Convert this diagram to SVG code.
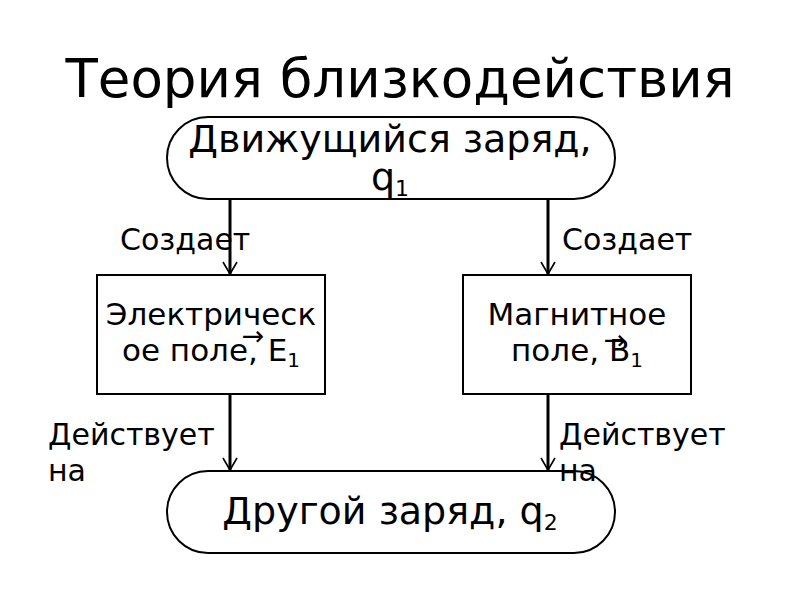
<svg xmlns="http://www.w3.org/2000/svg" width="800" height="600" viewBox="0 0 800 600">
<defs>
<marker id="arr" viewBox="0 0 14 16" refX="13" refY="8" markerWidth="14" markerHeight="16" markerUnits="userSpaceOnUse" orient="auto">
<path d="M1,1 L13,8 L1,15" fill="none" stroke="#000" stroke-width="1.6"/>
</marker>
</defs>
<style>
text{font-family:"DejaVu Sans","Liberation Sans",sans-serif;fill:#000}
.shape{fill:#fff;stroke:#000;stroke-width:2}
.big{font-size:38px;text-anchor:middle}
.mid{font-size:31px;text-anchor:middle}
.lbl{font-size:30px}
.vec{font-size:27px;text-anchor:middle}
.conn line{stroke:#000;stroke-width:3;marker-end:url(#arr)}
</style>
<rect width="800" height="600" fill="#fff"/>
<text x="400" y="97" font-size="53" text-anchor="middle">Теория близкодействия</text>
<g class="conn" id="connectors">
<line x1="230" y1="199" x2="230" y2="274"/>
<line x1="548" y1="199" x2="548" y2="274"/>
<line x1="230" y1="394" x2="230" y2="470"/>
<line x1="548" y1="394" x2="548" y2="470"/>
</g>
<g id="source">
<rect class="shape" x="167" y="117" width="448" height="82" rx="41" ry="41"/>
<text class="big" x="390" y="152">Движущийся заряд,</text>
<text class="big" x="390" y="190">q<tspan font-size="22" dy="6">1</tspan></text>
</g>
<g id="efield">
<rect class="shape" x="97" y="275" width="228" height="119"/>
<text class="mid" x="211" y="325">Электрическ</text>
<text class="mid" x="211" y="361">ое поле, E<tspan font-size="20" dy="6">1</tspan></text>
<text class="vec" x="253" y="345">→</text>
</g>
<g id="bfield">
<rect class="shape" x="463" y="275" width="228" height="119"/>
<text class="mid" x="577" y="325">Магнитное</text>
<text class="mid" x="577" y="361">поле, B<tspan font-size="20" dy="6">1</tspan></text>
<text class="vec" x="615" y="349">→</text>
</g>
<g id="target">
<rect class="shape" x="167" y="471" width="448" height="82" rx="41" ry="41"/>
<text class="big" x="390" y="524">Другой заряд, q<tspan font-size="22" dy="6">2</tspan></text>
</g>
<g id="labels">
<text class="lbl" x="120" y="250">Создает</text>
<text class="lbl" x="562" y="250">Создает</text>
<text class="lbl" x="48" y="445">Действует</text>
<text class="lbl" x="48" y="481">на</text>
<text class="lbl" x="559" y="445">Действует</text>
<text class="lbl" x="559" y="481">на</text>
</g>
</svg>
